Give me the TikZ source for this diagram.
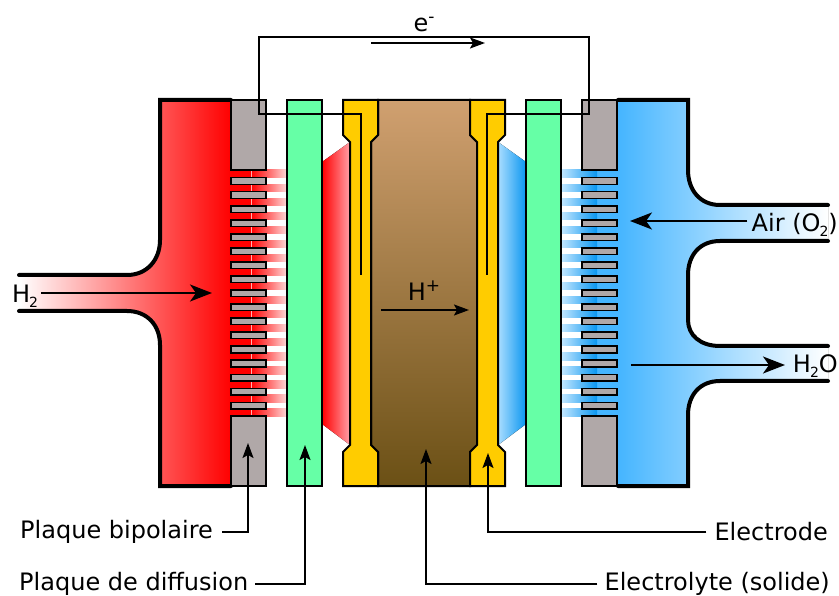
\documentclass[tikz,border=0pt]{standalone}
\usepackage{fontspec}
\setmainfont{DejaVu Sans}
\usetikzlibrary{calc}
\usetikzlibrary{arrows.meta}
\definecolor{plategray}{HTML}{B0A8A8}
\definecolor{diffgreen}{HTML}{66FFA6}
\definecolor{elecyellow}{HTML}{FFCC00}
\definecolor{browntop}{HTML}{D0A070}
\definecolor{brownbot}{HTML}{6B5015}
\definecolor{pinkzone}{HTML}{FFA0A8}
\definecolor{palezone}{HTML}{AADDFF}
\definecolor{airblue}{HTML}{45B5FF}
\definecolor{deepblue}{HTML}{0A96F0}
\newcommand{\lowtwo}{\kern-1pt\raisebox{-5pt}{\fontsize{14}{14}\selectfont 2}}
\newcommand{\hightext}[1]{\raisebox{9pt}{\fontsize{17}{17}\selectfont #1}}

\begin{document}
\begin{tikzpicture}[
  x=1pt,y=-1pt,
  every node/.style={font=\fontsize{24}{26}\selectfont,inner sep=0},
  outline/.style={line width=4pt},
  plate/.style={draw,line width=2pt,fill=plategray},
  diff/.style={draw,line width=2pt,fill=diffgreen},
  electrode/.style={draw,line width=2pt,fill=elecyellow},
  fin/.style={draw,line width=1.5pt,fill=plategray},
  wire/.style={line width=1.8pt},
  ar/.style={-{Stealth[length=22pt,width=17pt,inset=6pt]},line width=1.8pt},
  smallar/.style={-{Stealth[length=15pt,width=11pt,inset=3pt]},line width=1.8pt}
  ] %
    \useasboundingbox (0,0) rectangle (839,596);
    %% gas ports
    \fill[left color=white,right color=red]
      (231,100) -- (160,100) -- (160,240) .. controls (160,260) and (147,275) .. (127,275)
      -- (19,275) -- (19,311) -- (127,311) .. controls (147,311) and (160,325) .. (160,345)
      -- (160,486) -- (231,486) -- cycle;
    \fill[left color=airblue,middle color=airblue!40,right color=white]
      (618,100) -- (688,100) -- (688,170) .. controls (688,190) and (700,205) .. (720,205)
      -- (828,205) -- (828,241) -- (720,241) .. controls (700,241) and (688,255) .. (688,275)
      -- (688,320) .. controls (688,335) and (700,346) .. (720,346)
      -- (828,346) -- (828,381) -- (720,381) .. controls (700,381) and (688,395) .. (688,415)
      -- (688,486) -- (618,486) -- cycle;
    %% channels behind the fins
    \fill[red] (231,170) rectangle (251,416);
    \fill[airblue] (597,170) rectangle (618,416);
    \foreach \k in {0,...,17} {
      \fill[left color=red,middle color=red,right color=red!15]
        (251,170+14.04*\k) rectangle (287,177.5+14.04*\k);
      \fill[left color=palezone!70,middle color=deepblue!70,right color=deepblue]
        (561,170+14.04*\k) rectangle (597,177.5+14.04*\k);
    }
    \draw[red!30,line width=0.8pt] (251,170) -- (251,416);
    %% zones between plate and electrode
    \fill[left color=red,middle color=pinkzone,right color=pinkzone]
      (322,162) -- (350,142) -- (350,445) -- (322,424) -- cycle;
    \fill[left color=palezone,middle color=palezone,right color=deepblue]
      (498,142) -- (526,162) -- (526,424) -- (498,445) -- cycle;
    \draw[outline,line cap=round]
      (231,100) -- (160,100) -- (160,240) .. controls (160,260) and (147,275) .. (127,275) -- (19,275)
      (19,311) -- (127,311) .. controls (147,311) and (160,325) .. (160,345) -- (160,486) -- (231,486);
    \draw[outline,line cap=round]
      (618,100) -- (688,100) -- (688,170) .. controls (688,190) and (700,205) .. (720,205) -- (828,205)
      (828,241) -- (720,241) .. controls (700,241) and (688,255) .. (688,275)
      -- (688,320) .. controls (688,335) and (700,346) .. (720,346) -- (828,346)
      (828,381) -- (720,381) .. controls (700,381) and (688,395) .. (688,415) -- (688,486) -- (618,486);
    %% plates
    \draw[plate] (231,100) rectangle (266,170);
    \draw[plate] (231,416) rectangle (266,486);
    \draw[plate] (582,100) rectangle (617,170);
    \draw[plate] (582,416) rectangle (617,486);
    \foreach \k in {0,...,16} {
      \draw[fin] (231,177.7+14.04*\k) rectangle (266,184.3+14.04*\k);
      \draw[fin] (582,177.7+14.04*\k) rectangle (617,184.3+14.04*\k);
    }
    \draw[diff] (287,100) rectangle (322,486);
    \draw[diff] (526,100) rectangle (561,486);
    %% electrolyte and electrodes
    \draw[line width=2pt,top color=browntop,bottom color=brownbot]
      (378,100) -- (470,100) -- (470,135) -- (477,142) -- (477,445) -- (470,452) -- (470,486)
      -- (378,486) -- (378,452) -- (371,445) -- (371,142) -- (378,135) -- cycle;
    \draw[electrode]
      (343,100) -- (378,100) -- (378,135) -- (371,142) -- (371,445) -- (378,452) -- (378,486)
      -- (343,486) -- (343,452) -- (350,445) -- (350,142) -- (343,135) -- cycle;
    \draw[electrode]
      (470,100) -- (505,100) -- (505,135) -- (498,142) -- (498,445) -- (505,452) -- (505,486)
      -- (470,486) -- (470,452) -- (477,445) -- (477,142) -- (470,135) -- cycle;
    %% circuit
    \coordinate (wire left) at (361,275);
    \coordinate (wire right) at (487,275);
    \draw[wire] (wire left) |- (259,114) |- (589,37) |- (wire right |- 0,114) -- (wire right);
    %% labels
    \node(electron) at (424,25){e\hightext{-}};
    \coordinate (electron from) at (371,43);
    \coordinate (electron to) at (485,43);
    \draw[smallar] (electron from) -- (electron to);
    \node(proton) at (424,291){H\hightext{+}};
    \coordinate (proton from) at (381,310);
    \coordinate (proton to) at (469,310);
    \draw[smallar] (proton from) -- (proton to);
    \node[anchor=west](hydrogen) at (12,296){H\lowtwo};
    \coordinate (hydrogen from) at (41,293);
    \coordinate (hydrogen to) at (212,293);
    \draw[ar] (hydrogen from) -- (hydrogen to);
    \node[anchor=east](air) at (838,225){Air (O\lowtwo)};
    \coordinate (air to) at (630,221);
    \draw[ar] (air.west |- air to) ++(-4,0) -- (air to);
    \node[anchor=east](water) at (838,366){H\lowtwo O};
    \coordinate (water from) at (631,365);
    \coordinate (water to) at (785,365);
    \draw[ar] (water from) -- (water to);
    \node[anchor=west](bipolar) at (20,532){Plaque bipolaire};
    \coordinate (bipolar tip) at (248,443);
    \draw[smallar] ($(bipolar.east)+(9,0)$) -| (bipolar tip);
    \node[anchor=west](diffusion) at (19,584){Plaque de diffusion};
    \coordinate (diffusion tip) at (305,445);
    \draw[smallar] ($(diffusion.east)+(7,0)$) -| (diffusion tip);
    \node[anchor=east](electrolyte) at (830,584){Electrolyte (solide)};
    \coordinate (electrolyte tip) at (426,449);
    \draw[smallar] ($(electrolyte.west)+(-7,0)$) -| (electrolyte tip);
    \node[anchor=east](electrode label) at (828,532){Electrode};
    \coordinate (electrode tip) at (488,453);
    \draw[smallar] ($(electrode label.west)+(-8,0)$) -| (electrode tip);
  \end{tikzpicture}
\end{document}
